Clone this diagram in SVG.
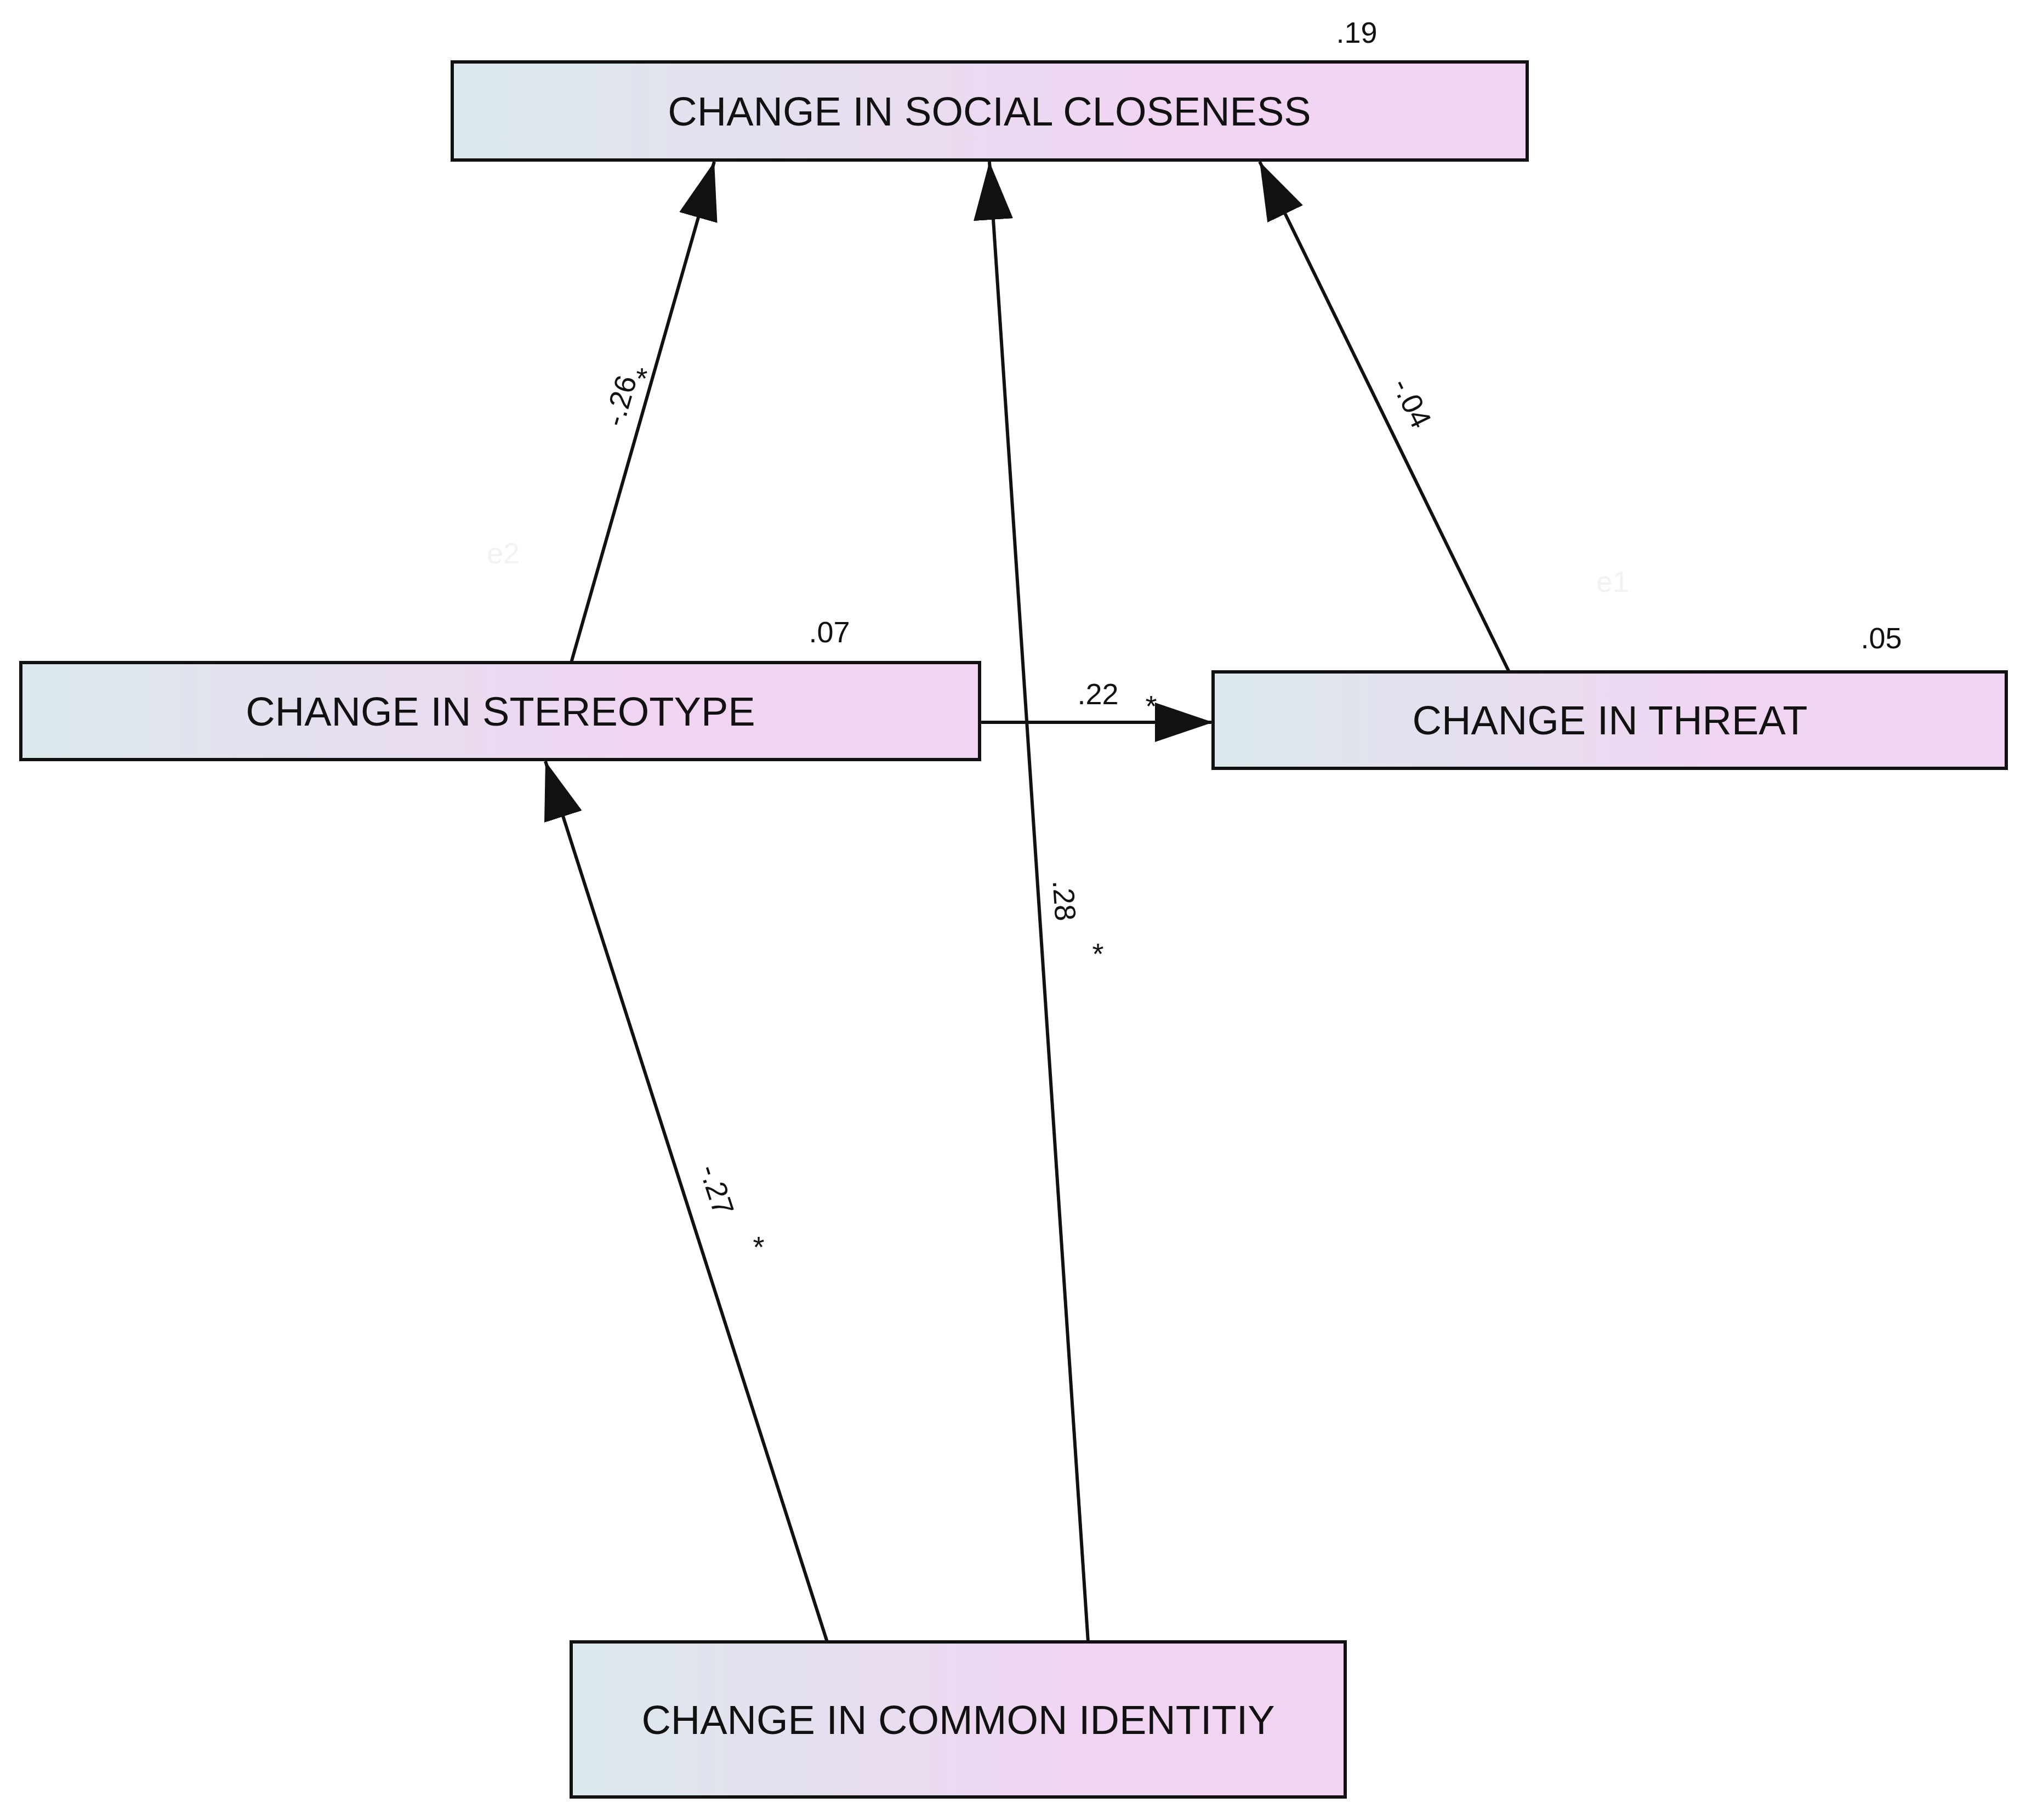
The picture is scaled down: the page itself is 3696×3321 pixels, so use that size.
<svg xmlns="http://www.w3.org/2000/svg" width="3696" height="3321" viewBox="0 0 3696 3321">
<style>
.box{fill:url(#g);stroke:#111;stroke-width:6}
.t{font-family:"Liberation Sans",Arial,sans-serif;font-size:74px;fill:#111;text-anchor:middle;dominant-baseline:central}
.l{font-family:"Liberation Sans",Arial,sans-serif;font-size:54px;fill:#111;text-anchor:middle;dominant-baseline:central}
.f{font-family:"Liberation Sans",Arial,sans-serif;font-size:54px;fill:#f2f2f2;text-anchor:middle;dominant-baseline:central}
.c{stroke:#111;stroke-width:6;fill:none;marker-end:url(#a)}
</style>
<defs>
<linearGradient id="g" x1="0" y1="0" x2="1" y2="0"><stop offset="0" stop-color="#dbe9ec"/><stop offset="0.65" stop-color="#f0d5f2"/><stop offset="1" stop-color="#f1d4f2"/></linearGradient>
<marker id="a" markerUnits="userSpaceOnUse" markerWidth="110" markerHeight="80" refX="106" refY="36" orient="auto"><path d="M0,0 L106,36 L0,72 Z" fill="#111"/></marker>
</defs>
<rect width="3696" height="3321" fill="#fff"/>
<g id="connectors">
<line class="c" x1="1042" y1="1209" x2="1303" y2="295"/>
<line class="c" x1="1985" y1="2996" x2="1805" y2="295"/>
<line class="c" x1="2753" y1="1226" x2="2298" y2="295"/>
<line class="c" x1="1787" y1="1318" x2="2213" y2="1318"/>
<line class="c" x1="1509" y1="2996" x2="995" y2="1389"/>
<text class="l" transform="translate(1131,731) rotate(-74)">-.26</text>
<text class="l" x="1171" y="690">*</text>
<text class="l" transform="translate(2576,735) rotate(64)">-.04</text>
<text class="l" x="2003" y="1266">.22</text>
<text class="l" x="2100" y="1288">*</text>
<text class="l" transform="translate(1942,1643) rotate(86)">.28</text>
<text class="l" x="2003" y="1740">*</text>
<text class="l" transform="translate(1308,2171) rotate(72)">-.27</text>
<text class="l" x="1384" y="2275">*</text>
</g>
<g id="n_social"><rect class="box" x="825" y="113" width="1961" height="179"/><text class="t" x="1805" y="203">CHANGE IN SOCIAL CLOSENESS</text><text class="l" x="2475" y="59">.19</text></g>
<g id="n_stereo"><rect class="box" x="38" y="1209" width="1749" height="177"/><text class="t" x="913" y="1298">CHANGE IN STEREOTYPE</text><text class="l" x="1513" y="1153">.07</text><text class="f" x="918" y="1009">e2</text></g>
<g id="n_threat"><rect class="box" x="2213" y="1226" width="1447" height="176"/><text class="t" x="2937" y="1314">CHANGE IN THREAT</text><text class="l" x="3432" y="1164">.05</text><text class="f" x="2942" y="1061">e1</text></g>
<g id="n_common"><rect class="box" x="1042" y="2996" width="1412" height="283"/><text class="t" x="1748" y="3138">CHANGE IN COMMON IDENTITIY</text></g>
</svg>
